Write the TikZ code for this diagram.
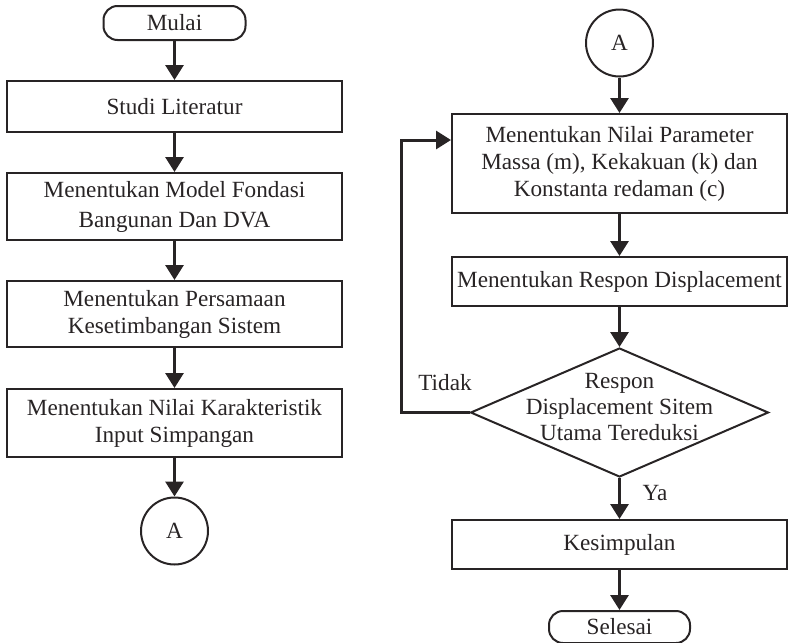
\documentclass[tikz,border=0pt]{standalone}
\usepackage{fontspec}
\setmainfont{Liberation Serif}
\usetikzlibrary{arrows.meta,shapes.geometric}
\definecolor{ink}{RGB}{40,36,37}
\begin{document}
\begin{tikzpicture}[x=1pt,y=-1pt,
  font=\fontsize{23.2}{27}\selectfont,
  every node/.style={text=ink},
  proc/.style={draw=ink,line width=2pt,rectangle,minimum width=335pt,align=center,inner sep=0pt},
  term/.style={draw=ink,line width=2pt,rectangle,rounded corners=14pt,minimum width=142pt,minimum height=34pt,align=center,inner sep=0pt},
  conn/.style={draw=ink,line width=2pt,circle,minimum size=67pt,inner sep=0pt},
  dec/.style={draw=ink,line width=2pt,diamond,minimum width=298pt,minimum height=129pt,inner sep=0pt},
  flow/.style={draw=ink,line width=3pt,-{Triangle[length=15pt,width=18pt]}},
  lbl/.style={inner sep=0pt}
]
\useasboundingbox (0,0) rectangle (788,643);

% left column
\node[term] (mulai) at (174.5,23) {Mulai};
\node[proc,minimum height=51pt] (studi) at (174.5,106.5) {Studi Literatur};
\node[proc,minimum height=67pt,font=\fontsize{23.2}{30}\selectfont] (model) at (174.5,206.5) {Menentukan Model Fondasi\\Bangunan Dan DVA};
\node[proc,minimum height=66pt] (persamaan) at (174.5,314) {Menentukan Persamaan\\Kesetimbangan Sistem};
\node[proc,minimum height=68pt] (karak) at (174.5,423) {Menentukan Nilai Karakteristik\\Input Simpangan};
\node[conn] (aleft) at (174.5,531) {A};

% right column
\node[conn] (aright) at (619.5,43) {A};
\node[proc,minimum height=99pt] (param) at (619.5,163.5) {Menentukan Nilai Parameter\\Massa (m), Kekakuan (k) dan\\Konstanta redaman (c)};
\node[proc,minimum height=49pt] (respon) at (619.5,281.5) {Menentukan Respon Displacement};
\node[dec] (dia) at (619.5,412.5) {};
\node[lbl,align=center,font=\fontsize{23.2}{26}\selectfont] (diatext) at (619.5,407) {Respon\\Displacement Sitem\\Utama Tereduksi};
\node[proc,minimum height=49pt] (kes) at (619.5,544.5) {Kesimpulan};
\node[term,minimum width=141pt,minimum height=32pt] (sel) at (619.5,627) {Selesai};

\node[lbl] (tidak) at (445,383) {Tidak};
\node[lbl] (ya) at (655,493) {Ya};

% connectors
\draw[flow] (mulai) -- (studi);
\draw[flow] (studi) -- (model);
\draw[flow] (model) -- (persamaan);
\draw[flow] (persamaan) -- (karak);
\draw[flow] (karak) -- (aleft);

\draw[flow] (aright) -- (param);
\draw[flow] (param) -- (respon);
\draw[flow] (respon) -- (dia);
\draw[flow] (dia) -- (kes);
\draw[flow] (kes) -- (sel);

\coordinate (loop) at (401,412.5);
\draw[flow] (dia.west) -- (loop) |- ([yshift=23.5pt]param.west);
\end{tikzpicture}
\end{document}
